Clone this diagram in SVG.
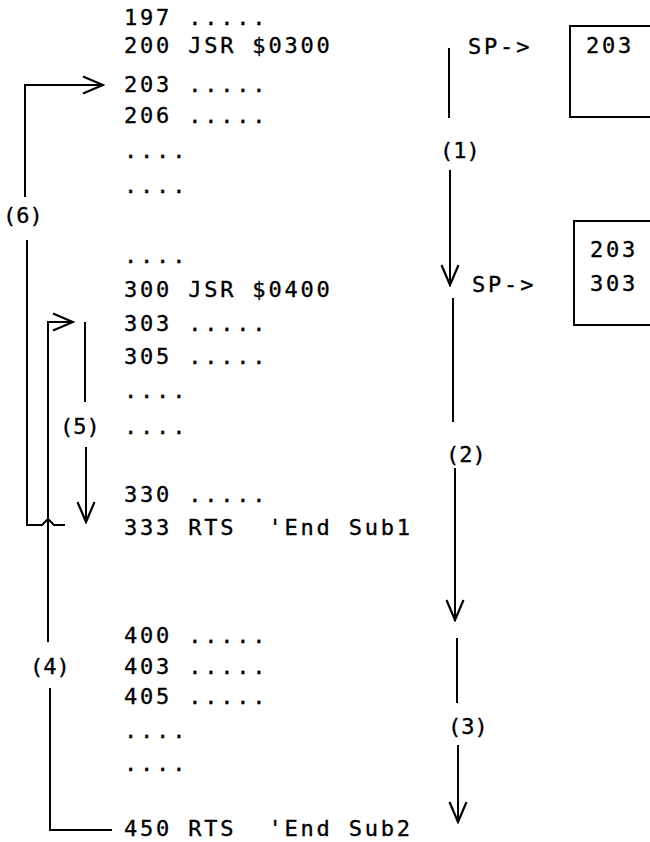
<svg xmlns="http://www.w3.org/2000/svg" width="650" height="842" viewBox="0 0 650 842">
<style>
text{font-family:"DejaVu Sans Mono","Liberation Mono",monospace;font-size:22px;fill:#000;stroke:#000;stroke-width:0.35px;letter-spacing:2.8px;white-space:pre}
text.lbl{letter-spacing:0px}
.ln{fill:none;stroke:#000;stroke-width:2}
.box{fill:#fff;stroke:#000;stroke-width:2}
</style>
<defs>
<marker id="ah" viewBox="-22 -11 24 22" markerWidth="24" markerHeight="22" refX="0" refY="0" orient="auto" markerUnits="userSpaceOnUse">
<path d="M-20,-8.5 L0,0 L-20,8.5" fill="none" stroke="#000" stroke-width="2.2"/>
</marker>
</defs>
<rect width="650" height="842" fill="#fff"/>
<g id="main">
<text x="124" y="25">197 .....</text>
<text x="124" y="53">200 JSR $0300</text>
<text x="124" y="92">203 .....</text>
<text x="124" y="123">206 .....</text>
<text x="124" y="158">....</text>
<text x="124" y="193">....</text>
<text x="124" y="263">....</text>
</g>
<g id="sub1">
<text x="124" y="297">300 JSR $0400</text>
<text x="124" y="331">303 .....</text>
<text x="124" y="364">305 .....</text>
<text x="124" y="398">....</text>
<text x="124" y="434">....</text>
<text x="124" y="502">330 .....</text>
<text x="124" y="535" xml:space="preserve">333 RTS  'End Sub1</text>
</g>
<g id="sub2">
<text x="124" y="643">400 .....</text>
<text x="124" y="674">403 .....</text>
<text x="124" y="704">405 .....</text>
<text x="124" y="738">....</text>
<text x="124" y="771">....</text>
<text x="124" y="836" xml:space="preserve">450 RTS  'End Sub2</text>
</g>
<g id="stack1">
<text x="468" y="54">SP-&gt;</text>
<rect class="box" x="570" y="26" width="95" height="91"/>
<text x="586" y="53">203</text>
</g>
<g id="stack2">
<text x="472" y="292">SP-&gt;</text>
<rect class="box" x="574" y="221" width="95" height="104"/>
<text x="590" y="257">203</text>
<text x="590" y="291">303</text>
</g>
<g id="labels">
<text class="lbl" x="440" y="158">(1)</text>
<text class="lbl" x="446" y="462">(2)</text>
<text class="lbl" x="448" y="734">(3)</text>
<text class="lbl" x="30" y="674">(4)</text>
<text class="lbl" x="60" y="434">(5)</text>
<text class="lbl" x="3" y="223">(6)</text>
</g>
<g id="connectors">
<path class="ln" d="M449,48 V118"/>
<path class="ln" d="M450,170 V285" marker-end="url(#ah)"/>
<path class="ln" d="M453,298 V422"/>
<path class="ln" d="M455,468 V620" marker-end="url(#ah)"/>
<path class="ln" d="M457,638 V703"/>
<path class="ln" d="M458,745 V822" marker-end="url(#ah)"/>
<path class="ln" d="M112,830 H50 V688"/>
<path class="ln" d="M48,642 V322 H73" marker-end="url(#ah)"/>
<path class="ln" d="M85,322 V402"/>
<path class="ln" d="M86,447 V522" marker-end="url(#ah)"/>
<path class="ln" d="M27,240 V525 H42 L48,519 L54,525 H65"/>
<path class="ln" d="M25,197 V85 H103" marker-end="url(#ah)"/>
</g>
</svg>
